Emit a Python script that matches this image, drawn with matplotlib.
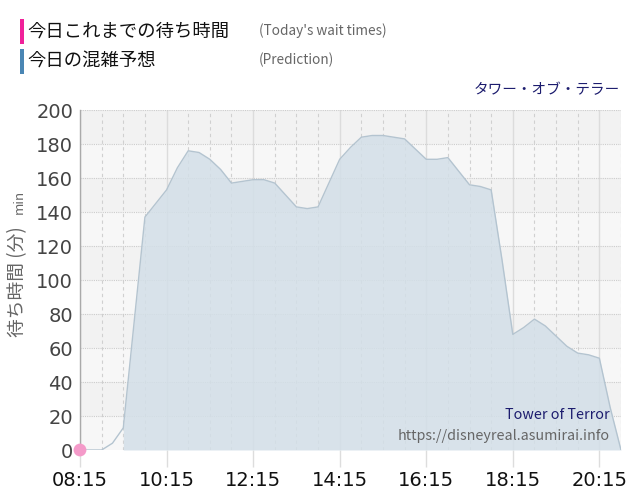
import matplotlib
matplotlib.use("Agg")
import matplotlib.pyplot as plt
from matplotlib.patches import Rectangle

times = ["08:15","08:30","08:45","09:00","09:15","09:30","09:45","10:00","10:15","10:30",
         "10:45","11:00","11:15","11:30","11:45","12:00","12:15","12:30","12:45","13:00",
         "13:15","13:30","13:45","14:00","14:15","14:30","14:45","15:00","15:15","15:30",
         "15:45","16:00","16:15","16:30","16:45","17:00","17:15","17:30","17:45","18:00",
         "18:15","18:30","18:45","19:00","19:15","19:30","19:45","20:00","20:15","20:30",
         "20:45"]
prediction = [0, 0, 0, 4, 13, 75, 137, 145, 153, 166,
              176, 175, 171, 165, 157, 158, 159, 159, 157, 150,
              143, 142, 143, 157, 171, 178, 184, 185, 185, 184,
              183, 177, 171, 171, 172, 164, 156, 155, 153, 112,
              68, 72, 77, 73, 67, 61, 57, 56, 54, 25,
              0]
fill_start = "09:15"
actual_times = ["08:15"]
actual_values = [0]
xtick_labels = ["08:15", "10:15", "12:15", "14:15", "16:15", "18:15", "20:15"]
yticks = [0, 20, 40, 60, 80, 100, 120, 140, 160, 180, 200]

def to_min(t):
    h, m = t.split(":")
    return int(h) * 60 + int(m)

x = [to_min(t) for t in times]
xa = [to_min(t) for t in actual_times]
xt = [to_min(t) for t in xtick_labels]
i0 = times.index(fill_start)

JP = ['Noto Sans CJK JP', 'DejaVu Sans']

fig = plt.figure(figsize=(6.4, 5.0), dpi=100)
ax = fig.add_axes([80/640, 50/500, 541/640, 340/500])

xmin, xmax = x[0], x[-1]
ax.set_xlim(xmin, xmax)
ax.set_ylim(0, 200)

# alternating background bands
for y0 in range(0, 200, 20):
    col = "#f2f2f2" if (y0 // 20) % 2 == 1 else "#f7f7f7"
    ax.axhspan(y0, y0 + 20, color=col, zorder=0, lw=0)

# grid
for v in range(xmin, xmax + 1, 30):
    if v in xt:
        ax.axvline(v, color="#dcdcdc", lw=1.0, zorder=1)
    else:
        ax.axvline(v, color="#d0d0d0", lw=0.8, ls=(0, (3, 3)), zorder=1)
for yv in yticks[1:]:
    ax.axhline(yv, color="#cccccc", lw=0.8, ls=(0, (1, 1)), zorder=1)

ax.fill_between(x[i0:], prediction[i0:], 0, color="#d3dfe8", alpha=0.85, lw=0, zorder=2)
ax.plot(x, prediction, color="#b4c4d0", lw=1.0, zorder=3)
ax.scatter(xa, actual_values, s=85, color="#f49ac9", zorder=5, clip_on=False, edgecolors="none")

ax.set_xticks(xt)
ax.set_xticklabels(xtick_labels, fontsize=14, color="#111111", family="DejaVu Sans")
ax.set_yticks(yticks)
ax.set_yticklabels([str(v) for v in yticks], fontsize=14, color="#444444")
ax.tick_params(axis="y", length=0, pad=5)
ax.tick_params(axis="x", length=12, width=1, color="#dddddd", pad=3)
for s in ["top", "right", "bottom"]:
    ax.spines[s].set_visible(False)
ax.spines["left"].set_color("#aaaaaa")
ax.spines["left"].set_linewidth(1.0)

# y label
fig.text(18/640, 1 - 337/500, "待ち時間 (分)", rotation=90, ha="center", va="bottom",
         fontsize=13.5, color="#666666", family=JP)
fig.text(19/640, 1 - 214/500, "min", rotation=90, ha="center", va="bottom",
         fontsize=9.5, color="#666666", family=JP)

# legend
fig.patches.append(Rectangle((20/640, 1 - 44/500), 4/640, 25/500, transform=fig.transFigure,
                             color="#f0219a", lw=0))
fig.patches.append(Rectangle((20/640, 1 - 74/500), 4/640, 25/500, transform=fig.transFigure,
                             color="#4a86b4", lw=0))
fig.text(27/640, 1 - 32/500, "今日これまでの待ち時間", ha="left", va="center",
         fontsize=13.2, color="#111111", family=JP)
fig.text(259/640, 1 - 31/500, "(Today's wait times)", ha="left", va="center",
         fontsize=9.8, color="#666666", family=JP)
fig.text(27/640, 1 - 61/500, "今日の混雑予想", ha="left", va="center",
         fontsize=13.2, color="#111111", family=JP)
fig.text(259/640, 1 - 60/500, "(Prediction)", ha="left", va="center",
         fontsize=9.8, color="#666666", family=JP)

fig.text(620/640, 1 - 90/500, "タワー・オブ・テラー", ha="right", va="center",
         fontsize=10.5, color="#1c1c6e", family=JP)

fig.text(610/640, 1 - 415/500, "Tower of Terror", ha="right", va="center",
         fontsize=10.3, color="#1c1c6e", family=JP)
fig.text(610/640, 1 - 436/500, "https://disneyreal.asumirai.info", ha="right", va="center",
         fontsize=10.3, color="#666666", family=JP)

fig.savefig("out.png", dpi=100)
